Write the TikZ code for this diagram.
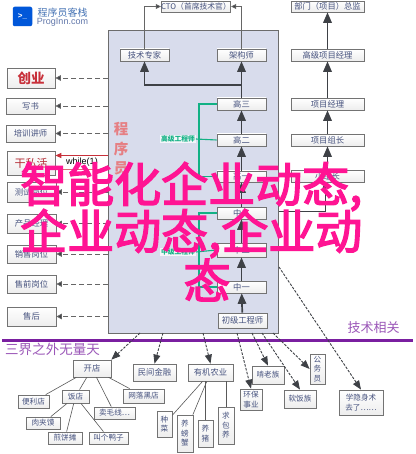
\documentclass[tikz,border=0pt]{standalone}
\usepackage{fontspec}
\setmainfont{Noto Sans CJK SC}
\newfontfamily\latinf{Liberation Sans}
\newfontfamily\ovf[FakeBold=3]{Noto Sans CJK SC}
\usetikzlibrary{arrows.meta,shadows,calc}
\definecolor{navy}{HTML}{46527E}
\definecolor{dk}{HTML}{3E4146}
\definecolor{panelc}{HTML}{D8DCEC}
\definecolor{mint}{HTML}{12B184}
\definecolor{pinkt}{HTML}{FF1493}
\definecolor{purp}{HTML}{7A1FA0}
\definecolor{redc}{HTML}{C8303A}
\newcommand\fsz[1]{\fontsize{#1}{\the\dimexpr#1pt*5/4\relax}\selectfont}
\tikzset{
  boxn/.style={draw=gray!90!black, line width=.7pt, top color=white, bottom color=gray!14,
    drop shadow={shadow xshift=.6pt,shadow yshift=-.6pt,fill=gray!55,opacity=.8},
    inner sep=0pt, align=center, text=navy, font=\fsz{8.3}},
  smallb/.style={font=\fsz{7.6}, line width=.8pt},
  thickar/.style={draw=dk, line width=1.7pt, -{Triangle[length=10.5pt,width=8.5pt]}},
  thinar/.style={draw=gray!80!black, line width=.7pt, -{Triangle[length=5pt,width=5pt,fill=dk]}},
  leftdash/.style={draw=gray!80!black, line width=.8pt, dash pattern=on 5pt off 3pt, -{Triangle[length=5.5pt,width=5.5pt,fill=dk]}},
  botdash/.style={draw=dk, line width=.9pt, dash pattern=on 2.6pt off 1.4pt, -{Triangle[length=9pt,width=7pt,fill=dk]}},
  tree/.style={draw=gray!70!black, line width=.6pt},
  greenl/.style={draw=mint, line width=1.1pt},
  greent/.style={text=mint, font=\bfseries\fsz{6.8}, fill=white, fill opacity=.75, text opacity=1, inner sep=.6pt},
  overlayt/.style={text=pinkt, font=\ovf\fsz{47}, inner sep=0pt},
}
\newcommand\mybox[6][]{\node[boxn,#1,minimum width={(#4-#2)*1pt},minimum height={(#5-#3)*1pt}] (#6) at ({(#2+#4)/2},{(#3+#5)/2})}
\begin{document}
\begin{tikzpicture}[x=1pt,y=-1pt]
\useasboundingbox (0,0) rectangle (415,454);
\fill[white] (0,0) rectangle (415,454);
% logo
\node[fill=blue!60!cyan!85!black, rounded corners=2pt, minimum size=19.5pt, inner sep=0pt, text=white, font=\latinf\bfseries\fsz{8}] (logo) at (22.5,16.5) {>\_};
\node[text=cyan!45!blue!75!gray, font=\fsz{10}, inner sep=0pt] (logot) at (62.5,12.7) {程序员客栈};
\node[text=cyan!40!blue!55!gray, font=\latinf\fsz{9}, inner sep=0pt] (logou) at (62.5,22.5) {ProgInn.com};
% panel
\node[draw=gray!85!black, line width=.9pt, fill=panelc, minimum width=170pt, minimum height=303pt, inner sep=0pt] (panel) at (193.5,181.5) {};
% purple rule
\coordinate (rl) at (2,340.5);
\coordinate (rr) at (413,340.5);
\draw[purp, line width=2.3pt] (rl) -- (rr);
% boxes
\mybox{162}{1}{230}{12}{cto}{\fsz{7.8}CTO（首席技术官）};
\mybox{291}{1}{364}{12}{dept}{部门（项目）总监};
\mybox{120}{49}{169}{61}{tech}{技术专家};
\mybox{217}{49}{266}{61}{arch}{架构师};
\mybox{217}{98}{266}{110}{h3}{高三};
\mybox{217}{134}{266}{146}{h2}{高二};
\mybox{217}{171}{266}{182}{h1}{高一};
\mybox{217}{207}{266}{219}{m3}{中三};
\mybox{217}{243}{266}{257}{m2}{中二};
\mybox{217}{281}{266}{293}{m1}{中一};
\mybox{218}{313}{267}{328}{jr}{初级工程师};
\mybox{291}{49}{364}{61}{sm}{高级项目经理};
\mybox{291}{98}{364}{110}{pm}{项目经理};
\mybox{291}{134}{364}{146}{pl}{项目组长};
\mybox{291}{170}{364}{182}{tl}{小组长};
\mybox[text=redc,font=\bfseries\fsz{13.5}]{7}{68}{55}{88}{cy}{创业};
\mybox{6}{98}{55}{114}{xs}{写书};
\mybox{6}{125}{55}{142}{px}{培训讲师};
\mybox[text=redc!90!black,font=\fsz{11}]{7}{151}{55}{175}{sh}{干私活};
\mybox{7}{182}{56}{202}{cs}{测试岗位};
\mybox{7}{214}{56}{233}{cp}{产品经理};
\mybox{7}{245}{56}{263}{xq}{销售岗位};
\mybox{7}{275}{56}{293}{sq}{售前岗位};
\mybox{7}{307}{56}{326}{sh2}{售后};
% bottom
\mybox{73}{360}{111}{377}{kd}{开店};
\mybox{133}{364}{176}{381}{mj}{民间金融};
\mybox{188}{364}{233}{381}{yj}{有机农业};
\mybox[smallb]{18}{395}{49}{408}{bl}{便利店};
\mybox[smallb]{62}{390}{89}{403}{fd}{饭店};
\mybox[smallb]{123}{389}{164}{403}{wl}{网落黑店};
\mybox[smallb]{94}{407}{135}{419}{mx}{卖毛线…};
\mybox[smallb]{26}{417}{60}{429}{rj}{肉夹馍};
\mybox[smallb]{48}{432}{82}{444}{jb}{煎饼摊};
\mybox[smallb]{89}{432}{128}{444}{yz}{叫个鸭子};
\mybox[smallb]{157}{411}{172}{437}{zc}{种\\菜};
\mybox[smallb]{177}{415}{193}{452}{px2}{养\\螃\\蟹};
\mybox[smallb]{198}{420}{213}{447}{yzh}{养\\猪};
\mybox[smallb]{218}{407}{234}{444}{qb}{求\\包\\养};
\mybox[smallb]{240}{389}{262}{410}{hb}{环保\\事业};
\mybox[smallb]{252}{366}{284}{384}{kl}{啃老族};
\mybox[smallb]{310}{354}{325}{384}{gw}{公\\务\\员};
\mybox[smallb]{284}{390}{316}{408}{rf}{软饭族};
\mybox[smallb]{339}{390}{383}{415}{xy}{学隐身术\\去了……};
% texts
\node[text=redc!45!pink, font=\bfseries\fsz{14.5}, inner sep=0pt, align=center] (cxy) at (121,149) {程\\[1.5pt]序\\[1.5pt]员};
\node[font=\latinf\fsz{9}, inner sep=0pt] (wh) at (82,162.5) {while(1)};
\node[text=purp!75!white, font=\fsz{13.5}, inner sep=0pt] (sj) at (52.5,349.5) {三界之外无量天};
\node[text=purp!75!white, font=\fsz{13}, inner sep=0pt] (js) at (373.5,327.5) {技术相关};
\node[greent] (g1) at (178,139) {高级工程师};
\node[greent] (g2) at (178,252) {中级工程师};
% green lines
\coordinate (gx) at (199,0);
\draw[greenl] (h3.west) -- (h3.west -| gx) -- (h1.west -| gx) -- (h1.west);
\draw[greenl] (g1.east) -- (h2.west);
\draw[greenl] (m3.west) -- (m3.west -| gx) -- (m1.west -| gx) -- (m1.west);
\draw[greenl] (g2.east) -- (m2.west);
% thick arrows
\coordinate (bj) at (241.5,85);
\draw[thickar] (h3) -- (arch);
\draw[thickar] (bj) -| (tech);
\draw[thickar] (h2) -- (h3);
\draw[thickar] (h1) -- (h2);
\draw[thickar] (m3) -- (h1);
\draw[thickar] (m2) -- (m3);
\draw[thickar] (m1) -- (m2);
\draw[thickar] (jr) -- (m1);
\draw[thickar] (sm) -- (dept);
\draw[thickar] (pm) -- (sm);
\draw[thickar] (pl) -- (pm);
\draw[thickar] (tl) -- (pl);
\coordinate (tlb) at (325,211);
\draw[draw=dk, line width=.9pt, -{Triangle[length=6pt,width=5pt]}] (panel.east |- tlb) -- (tlb) -- (tlb |- tl.south);
% CTO
\draw[thinar] (tech.north) |- (cto.west);
\draw[thinar] (arch.north) |- (cto.east);
% left dashes
\foreach \n in {cy,xs,px,cs,cp,xq,sq,sh2} \draw[leftdash] (\n.east -| panel.west) -- (\n.east);
\coordinate (r1) at (0,155.5);
\coordinate (r2) at (0,169);
\draw[draw=redc, line width=1pt, -{Triangle[length=6pt,width=5pt]}] (r1 -| panel.west) -- (r1 -| sh.east);
\draw[draw=redc!70!white, line width=.8pt] (r2 -| sh.east) -- (r2 -| panel.west);
% bottom dashes
\coordinate (o1) at (140,333);
\coordinate (o2) at (163,333);
\coordinate (o3) at (203,333);
\coordinate (o4) at (237,333);
\coordinate (o5) at (252,333);
\coordinate (o6) at (262,333);
\coordinate (o7) at (273,333);
\coordinate (o8) at (279,267);
\draw[botdash] (o1) -- (kd.north east);
\draw[botdash] (o2) -- (mj.north);
\draw[botdash] (o3) -- (yj.north);
\draw[botdash] (o4) -- (hb.north);
\draw[botdash] (o5) -- (kl.north);
\draw[botdash] (o6) -- (rf.north);
\draw[botdash] (o7) -- (gw.west);
\draw[botdash] (o8) -- (xy.north);
% tree
\foreach \a/\b in {kd/bl,kd/fd,kd/mx,kd/wl,fd/rj,fd/jb,fd/yz,yj/zc,yj/px2}
  \draw[tree] (\a) -- (\b);
\draw[tree] (yzh |- yj.south) -- (yzh.north);
\draw[tree] (qb |- yj.south) -- (qb.north);
% overlay
\node[overlayt, anchor=base west] (l1) at (20,202) {智能化企业动态,};
\node[overlayt, anchor=base west] (l2) at (20,249) {企业动态,企业动};
\node[overlayt] (l3) at (207,280) {态};
\end{tikzpicture}
\end{document}
